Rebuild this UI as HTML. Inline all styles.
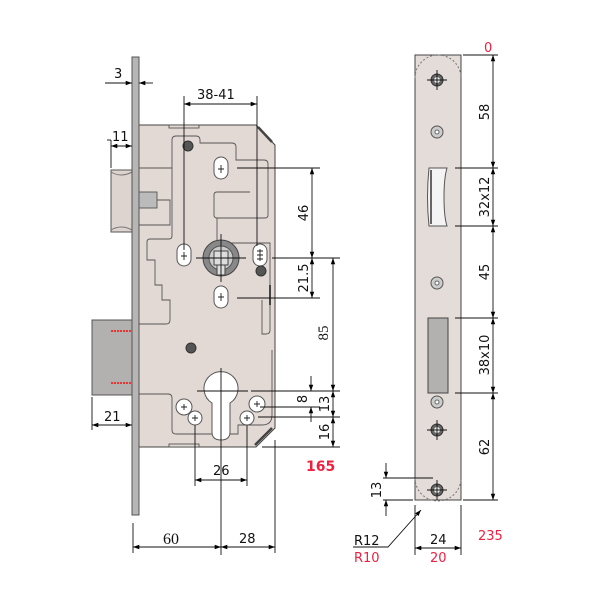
<!DOCTYPE html>
<html><head><meta charset="utf-8"><style>
html,body{margin:0;padding:0;background:#fff;}
svg{display:block;}
text{font-family:"DejaVu Sans","Liberation Sans",sans-serif;font-size:13px;fill:#111;}
.r{fill:#f02040;}
</style></head><body>
<svg width="600" height="600" viewBox="0 0 600 600" xmlns="http://www.w3.org/2000/svg">
<defs>
<marker id="a" viewBox="0 0 10 10" refX="10" refY="5" markerWidth="7" markerHeight="7" orient="auto-start-reverse"><path d="M0,1.5 L10,5 L0,8.5 z" fill="#000"/></marker>
</defs>
<!-- latch & deadbolt -->
<rect x="111" y="170" width="21" height="62" fill="#ddd3cf" stroke="#555" stroke-width="1"/>
<path d="M111,172 q10,6 21,0 M111,230 q10,-6 21,0" fill="none" stroke="#777"/>
<rect x="92" y="320" width="40" height="75" fill="#b3b0b0" stroke="#555" stroke-width="1"/>
<line x1="111" y1="331" x2="131" y2="331" stroke="#e33" stroke-width="2" stroke-dasharray="2,1"/>
<line x1="111" y1="383" x2="131" y2="383" stroke="#e33" stroke-width="2" stroke-dasharray="2,1"/>
<!-- body -->
<path d="M139,125 L256,125 L275,145 L275,428 L256,447 L139,447 z" fill="#e2d9d5" stroke="#444" stroke-width="1"/>
<path d="M258,127 L272,142" stroke="#444" stroke-width="2.5"/>
<path d="M255,445 L272,428" stroke="#444" stroke-width="2.5"/>
<rect x="169" y="125" width="30" height="3" fill="#e2d9d5" stroke="#444" stroke-width="0.8"/>
<rect x="169" y="444" width="30" height="3" fill="#e2d9d5" stroke="#444" stroke-width="0.8"/>
<!-- interior outlines -->
<g fill="none" stroke="#555" stroke-width="0.9">
<path d="M139,168 L172,168 L172,140 q0,-4 4,-4 L196,136 q4,0 4,4 L200,143 L232,143 q4,0 4,4 L236,160 L264,160 q4,0 4,4 L268,215 q0,3 -3,3 L217,218 q-3,0 -3,-3 L214,195 q0,-3 3,-3 L250,192"/>
<path d="M139,200 L170,200 L170,225 L139,225"/>
<path d="M172,168 L172,236 q0,3 -3,3 L150,239 q-3,0 -3,3 L147,260 L155,260 L155,285 L162,285 L162,300 L170,300 L170,320 q0,4 -4,4 L139,324"/>
<path d="M217,218 L217,240 q0,3 3,3 L270,243 L270,330 q0,4 -4,4 L262,334 L262,300"/>
<path d="M139,394 L168,394 q4,0 4,4 L172,430 q0,4 4,4 L212,434"/>
<path d="M230,434 L238,434 L238,425 L262,425 q10,0 10,-10 L272,350"/>
<rect x="137" y="192" width="20" height="16" fill="#bbb" stroke="#555"/>
</g>
<!-- faceplate -->
<rect x="132" y="57" width="7" height="458" fill="#b8b5b5" stroke="#555" stroke-width="1"/>
<line x1="270" y1="285" x2="270" y2="305" stroke="#444" stroke-width="2"/>
<!-- slots -->
<g fill="#fff" stroke="#555" stroke-width="1">
<rect x="214" y="157" width="14" height="22" rx="7"/>
<rect x="177" y="244" width="14" height="22" rx="7"/>
<rect x="253" y="244" width="14" height="22" rx="7"/>
<rect x="214" y="286" width="14" height="22" rx="7"/>
</g>
<!-- spindle -->
<circle cx="221" cy="258" r="18" fill="#888" stroke="#444"/>
<circle cx="221" cy="258" r="12" fill="#ccc" stroke="#555"/>
<rect x="214" y="251" width="14" height="14" fill="#ddd" stroke="#444"/>
<rect x="217" y="265" width="8" height="10" fill="#ddd" stroke="#444"/>
<!-- screws -->
<g fill="#555" stroke="#333"><circle cx="188" cy="146" r="5"/><circle cx="261" cy="271" r="5"/><circle cx="191" cy="348" r="5"/></g>
<!-- cylinder -->
<path d="M212,403 A17,17 0 1 1 230,403 L230,432 q0,8 -9,8 q-9,0 -9,-8 z" fill="#fff" stroke="#555"/>
<g fill="#fff" stroke="#555"><circle cx="184" cy="407" r="8"/><circle cx="195" cy="418" r="7"/><circle cx="257" cy="404" r="8"/><circle cx="247" cy="418" r="7"/></g>
<g stroke="#222" stroke-width="0.9" fill="none">
<path d="M181,407h6M184,404v6M192,418h6M195,415v6M254,404h6M257,401v6M244,418h6M247,415v6M221,165v8M218,169h6M184,252v8M181,256h6M221,293v8M218,297h6M257,251h6M257,255h6M257,259h6M260,249v12"/>
</g>
<!-- center lines -->
<g stroke="#111" stroke-width="0.9" fill="none">
<line x1="221" y1="234" x2="221" y2="282"/><line x1="196" y1="258" x2="246" y2="258"/>
<line x1="221" y1="368" x2="221" y2="555"/><line x1="197" y1="391" x2="248" y2="391"/>
<line x1="184" y1="96" x2="184" y2="250"/><line x1="257" y1="96" x2="257" y2="246"/>
<line x1="237" y1="168" x2="320" y2="168"/><line x1="272" y1="258" x2="340" y2="258"/>
<line x1="237" y1="298" x2="320" y2="298"/>
<line x1="251" y1="391" x2="340" y2="391"/><line x1="260" y1="407" x2="320" y2="407"/>
<line x1="258" y1="417" x2="340" y2="417"/><line x1="262" y1="447" x2="340" y2="447"/>
<line x1="107" y1="140" x2="111" y2="140"/><line x1="111" y1="140" x2="111" y2="168"/>
<line x1="92" y1="397" x2="92" y2="430"/>
<line x1="195" y1="425" x2="195" y2="486"/><line x1="247" y1="425" x2="247" y2="486"/>
<line x1="133" y1="523" x2="133" y2="553"/><line x1="275" y1="440" x2="275" y2="553"/>
</g>
<!-- dimension arrows -->
<g stroke="#111" stroke-width="0.9" fill="none">
<line x1="105" y1="83" x2="132" y2="83" marker-end="url(#a)"/>
<line x1="153" y1="83" x2="139" y2="83" marker-end="url(#a)"/>
<line x1="184" y1="104" x2="257" y2="104" marker-start="url(#a)" marker-end="url(#a)"/>
<line x1="111" y1="146" x2="132" y2="146" marker-start="url(#a)" marker-end="url(#a)"/>
<line x1="312" y1="168" x2="312" y2="258" marker-start="url(#a)" marker-end="url(#a)"/>
<line x1="312" y1="258" x2="312" y2="298" marker-start="url(#a)" marker-end="url(#a)"/>
<line x1="333" y1="258" x2="333" y2="391" marker-start="url(#a)" marker-end="url(#a)"/>
<line x1="311" y1="376" x2="311" y2="391" marker-end="url(#a)"/>
<line x1="311" y1="422" x2="311" y2="407" marker-end="url(#a)"/>
<line x1="333" y1="391" x2="333" y2="417" marker-start="url(#a)" marker-end="url(#a)"/>
<line x1="333" y1="417" x2="333" y2="447" marker-start="url(#a)" marker-end="url(#a)"/>
<line x1="92" y1="425" x2="132" y2="425" marker-start="url(#a)" marker-end="url(#a)"/>
<line x1="195" y1="480" x2="247" y2="480" marker-start="url(#a)" marker-end="url(#a)"/>
<line x1="133" y1="547" x2="221" y2="547" marker-start="url(#a)" marker-end="url(#a)"/>
<line x1="221" y1="547" x2="275" y2="547" marker-start="url(#a)" marker-end="url(#a)"/>
</g>
<text x="114" y="78">3</text>
<text x="197" y="99">38-41</text>
<text x="112" y="141">11</text>
<text transform="translate(308,213) rotate(-90)" text-anchor="middle">46</text>
<text transform="translate(308,278) rotate(-90)" text-anchor="middle">21.5</text>
<text transform="translate(328,333) rotate(-90)" text-anchor="middle" style="font-family:'Liberation Serif',serif;font-size:15px">85</text>
<text transform="translate(307,399) rotate(-90)" text-anchor="middle">8</text>
<text transform="translate(329,404) rotate(-90)" text-anchor="middle">13</text>
<text transform="translate(329,432) rotate(-90)" text-anchor="middle">16</text>
<text x="306" y="471" class="r" style="font-weight:bold;font-size:14px">165</text>
<text x="104" y="421">21</text>
<text x="213" y="475">26</text>
<text x="163" y="544" style="font-family:'Liberation Serif',serif;font-size:16px">60</text>
<text x="239" y="543">28</text>
<!-- strike plate -->
<rect x="415" y="55" width="46" height="445" fill="#e4dcd8" stroke="#444" stroke-width="1"/>
<path d="M415,78 A23,23 0 0 1 461,78 M415,478 A23,23 0 0 0 461,478" fill="none" stroke="#777" stroke-dasharray="2,2"/>
<path d="M429,168 L447,168 q-3,10 -3,29 q0,20 3,29 L429,226 q-3,-29 0,-58z" fill="#f4f4f4" stroke="#555"/>
<line x1="431" y1="170" x2="431" y2="224" stroke="#666" stroke-width="2"/>
<rect x="428" y="318" width="20" height="75" fill="#b3b0b0" stroke="#444"/>
<g fill="#ccc" stroke="#555"><circle cx="437" cy="132" r="6"/><circle cx="437" cy="283" r="6"/><circle cx="437" cy="402" r="6"/></g>
<g fill="#fff" stroke="#666"><circle cx="437" cy="132" r="2"/><circle cx="437" cy="283" r="2"/><circle cx="437" cy="402" r="2"/></g>
<g fill="#666" stroke="#333"><circle cx="437" cy="80" r="6"/><circle cx="437" cy="430" r="6"/><circle cx="437" cy="490" r="6"/></g>
<g fill="#eee"><circle cx="437" cy="80" r="3"/><circle cx="437" cy="430" r="3"/><circle cx="437" cy="490" r="3"/></g>
<g stroke="#111" stroke-width="0.9" fill="none">
<path d="M427,80h20M437,70v20M427,430h20M437,420v20M427,490h20M437,480v20"/>
<path d="M463,55h35M455,168h43M455,226h43M455,318h43M455,393h43M463,500h35"/>
<path d="M383,478h50M383,500h30"/>
<path d="M415,505v50M461,505v50"/>
<line x1="493" y1="55" x2="493" y2="168" marker-start="url(#a)" marker-end="url(#a)"/>
<line x1="493" y1="168" x2="493" y2="226" marker-start="url(#a)" marker-end="url(#a)"/>
<line x1="493" y1="226" x2="493" y2="318" marker-start="url(#a)" marker-end="url(#a)"/>
<line x1="493" y1="318" x2="493" y2="393" marker-start="url(#a)" marker-end="url(#a)"/>
<line x1="493" y1="393" x2="493" y2="500" marker-start="url(#a)" marker-end="url(#a)"/>
<line x1="386" y1="463" x2="386" y2="478" marker-end="url(#a)"/>
<line x1="386" y1="516" x2="386" y2="500" marker-end="url(#a)"/>
<line x1="415" y1="548" x2="461" y2="548" marker-start="url(#a)" marker-end="url(#a)"/>
<path d="M353,547 L388,547 L421,510" marker-end="url(#a)"/>
</g>
<text x="484" y="52" class="r">0</text>
<text transform="translate(489,112) rotate(-90)" text-anchor="middle">58</text>
<text transform="translate(489,197) rotate(-90)" text-anchor="middle">32x12</text>
<text transform="translate(489,272) rotate(-90)" text-anchor="middle">45</text>
<text transform="translate(489,355) rotate(-90)" text-anchor="middle">38x10</text>
<text transform="translate(489,447) rotate(-90)" text-anchor="middle">62</text>
<text transform="translate(381,490) rotate(-90)" text-anchor="middle">13</text>
<text x="478" y="540" class="r">235</text>
<text x="430" y="544">24</text>
<text x="430" y="562" class="r">20</text>
<text x="354" y="545">R12</text>
<text x="354" y="562" class="r">R10</text>
</svg>
</body></html>
